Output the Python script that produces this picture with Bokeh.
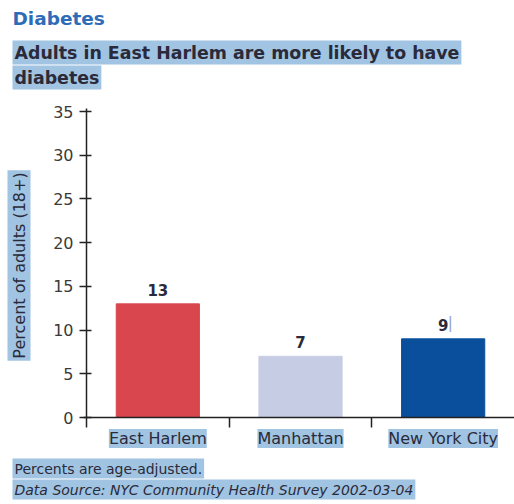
from bokeh.plotting import figure
from bokeh.models import (ColumnDataSource, LabelSet, Label, Range1d,
                          FixedTicker)
from bokeh.core.properties import value
from bokeh.embed import file_html
from bokeh.resources import INLINE

# --- data -------------------------------------------------------------
categories = ["East Harlem", "Manhattan", "New York City"]
values = [13, 7, 9]
bar_colors = ["#d9464d", "#c6cce4", "#0a4f9b"]
y_ticks = [0, 5, 10, 15, 20, 25, 30, 35]

title_text = "Diabetes"
subtitle_lines = ["Adults in East Harlem are more likely to have", "diabetes"]
y_label_text = "Percent of adults (18+)"
note_text = "Percents are age-adjusted."
source_text = "Data Source: NYC Community Health Survey 2002-03-04"

# --- page geometry ----------------------------------------------------
W, H = 514, 504
ORIGIN_X, ORIGIN_Y = 86, 417      # where the axes cross
AXIS_TOP = 108                    # top end of the value axis
Y_MAX = 35.35
n = len(categories)

HIGHLIGHT = "#a0c4e2"
FONT = "DejaVu Sans"
INK = "#2a2a3a"
AXIS = "#222222"

x_per_px = n / (W - ORIGIN_X)
y_per_px = Y_MAX / (ORIGIN_Y - AXIS_TOP)


def px2x(px):
    return (px - ORIGIN_X) * x_per_px


def px2y(py):
    return (ORIGIN_Y - py) * y_per_px


def style(obj, **props):
    """Set optional styling properties, skipping any this Bokeh lacks."""
    for k, v in props.items():
        try:
            setattr(obj, k, v)
        except AttributeError:
            pass


xs = [i + 0.5 for i in range(n)]
src = ColumnDataSource(dict(x=xs, cat=categories, val=values,
                            lab=[str(v) for v in values], color=bar_colors,
                            cy=[px2y(438)] * n))

# the frame spans the whole page; axes sit at the data origin
p = figure(width=W, height=H, output_backend="svg", toolbar_location=None,
           x_range=Range1d(px2x(0), px2x(W)), y_range=Range1d(px2y(H), px2y(0)),
           title=None, min_border=0,
           background_fill_color="white", border_fill_color="white",
           outline_line_color=None)
p.grid.visible = False

p.vbar(x="x", top="val", width=0.583, bottom=0, color="color", source=src)

# value axis
ya = p.yaxis[0]
ya.fixed_location = 0
ya.bounds = (0, Y_MAX)
ya.ticker = FixedTicker(ticks=y_ticks)
ya.axis_line_color = AXIS
ya.axis_line_width = 1.5
ya.major_tick_line_color = AXIS
ya.major_tick_line_width = 1.5
ya.major_tick_in = 5
ya.major_tick_out = 7
ya.minor_tick_line_color = None
ya.major_label_standoff = 6
ya.major_label_text_font = FONT
ya.major_label_text_font_size = "16px"
ya.major_label_text_color = "#3a3a3a"

# category axis: short marks at category boundaries only
xa = p.xaxis[0]
xa.fixed_location = 0
xa.bounds = (px2x(83), n)
xa.ticker = FixedTicker(ticks=[], minor_ticks=list(range(n)))
xa.axis_line_color = AXIS
xa.axis_line_width = 1.5
xa.major_tick_line_color = None
xa.minor_tick_line_color = AXIS
xa.minor_tick_line_width = 1.5
xa.minor_tick_in = 0
xa.minor_tick_out = 10

# category names
cat_labels = LabelSet(x="x", y="cy", text="cat", source=src,
                      text_align="center", text_baseline="middle",
                      text_font=value(FONT), text_font_size=value("16px"),
                      text_color=value(INK), background_fill_color=HIGHLIGHT)
style(cat_labels, padding=2)
p.add_layout(cat_labels)

# value labels over bars
p.add_layout(LabelSet(x="x", y="val", text="lab", source=src,
                      y_offset=8, text_align="center", text_baseline="bottom",
                      text_font=value(FONT), text_font_style=value("bold"),
                      text_font_size=value("15px"), text_color=value(INK)))
# thin caret beside the last value
p.add_layout(Label(x=xs[2], y=values[2], x_offset=7, y_offset=7,
                   text="|", text_align="center", text_baseline="bottom",
                   text_font=FONT, text_font_size="15px",
                   text_color="#8ea4cc"))


def note(txt, px, py, size, colr=INK, fstyle="normal", bg=HIGHLIGHT,
         angle=0, align="left"):
    lab = Label(x=px2x(px), y=px2y(py), text=txt, angle=angle,
                angle_units="deg", text_align=align, text_baseline="middle",
                text_font=FONT, text_font_size=size, text_font_style=fstyle,
                text_color=colr)
    if bg:
        lab.background_fill_color = bg
        style(lab, padding=2)
    p.add_layout(lab)


note(title_text, 12, 18, "18.5px", colr="#2f6cb8", fstyle="bold", bg=None)
note(subtitle_lines[0], 12, 52, "17.4px", fstyle="bold")
note(subtitle_lines[1], 12, 77, "17.4px", fstyle="bold")
note(y_label_text, 18.5, 265, "16px", angle=90, align="center")
note(note_text, 12, 468, "14px")
note(source_text, 12, 489, "14px", fstyle="italic")

open("out.html", "w").write(file_html(p, INLINE))
